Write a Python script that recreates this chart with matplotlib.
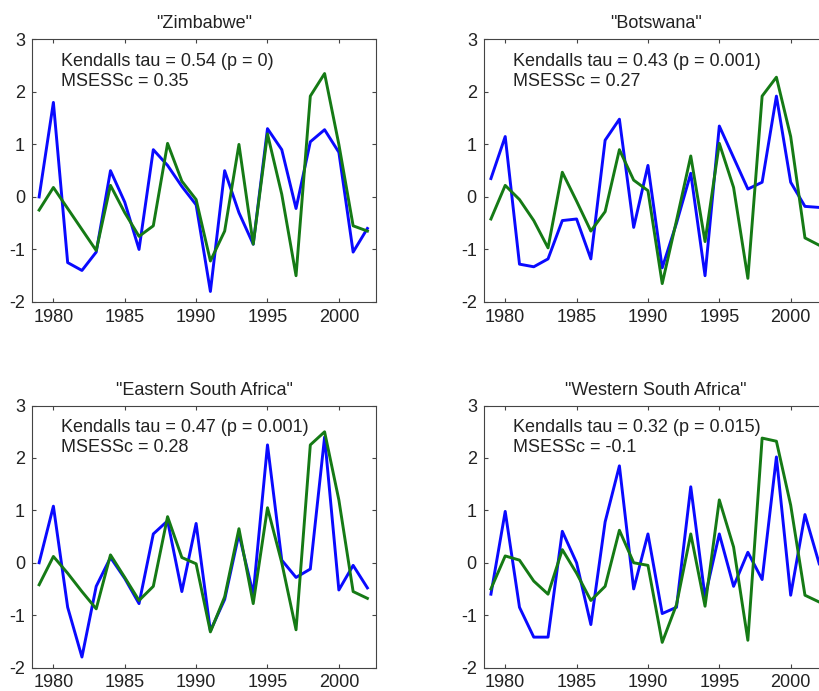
import matplotlib.pyplot as plt

plt.rcParams['font.family'] = ['Liberation Sans', 'DejaVu Sans']
plt.rcParams['axes.unicode_minus'] = False

years = list(range(1979, 2003))

titles = ['"Zimbabwe"', '"Botswana"', '"Eastern South Africa"', '"Western South Africa"']
tau_labels = ['Kendalls tau = 0.54 (p = 0)', 'Kendalls tau = 0.43 (p = 0.001)',
              'Kendalls tau = 0.47 (p = 0.001)', 'Kendalls tau = 0.32 (p = 0.015)']
msess_labels = ['MSESSc = 0.35', 'MSESSc = 0.27', 'MSESSc = 0.28', 'MSESSc = -0.1']

# blue line (observed) per region
zim_blue = [0.0, 1.8, -1.25, -1.4, -1.05, 0.5, -0.1, -1.0, 0.9, 0.6, 0.2, -0.15,
            -1.8, 0.5, -0.3, -0.9, 1.3, 0.9, -0.22, 1.05, 1.28, 0.85, -1.05, -0.6]
bot_blue = [0.35, 1.15, -1.28, -1.33, -1.18, -0.45, -0.42, -1.18, 1.08, 1.48, -0.58, 0.6,
            -1.35, -0.5, 0.45, -1.5, 1.35, 0.75, 0.15, 0.28, 1.92, 0.28, -0.18, -0.2]
esa_blue = [0.0, 1.08, -0.85, -1.8, -0.45, 0.1, -0.3, -0.78, 0.55, 0.8, -0.55, 0.75,
            -1.3, -0.7, 0.55, -0.6, 2.25, 0.05, -0.28, -0.12, 2.4, -0.52, -0.05, -0.48]
wsa_blue = [-0.6, 0.98, -0.85, -1.42, -1.42, 0.6, 0.0, -1.18, 0.78, 1.85, -0.5, 0.55,
            -0.97, -0.85, 1.45, -0.65, 0.55, -0.45, 0.2, -0.32, 2.02, -0.62, 0.92, -0.02]

# green line (forecast) per region
zim_green = [-0.25, 0.18, -0.22, -0.62, -1.02, 0.22, -0.3, -0.75, -0.55, 1.02, 0.3, -0.05,
             -1.22, -0.65, 1.0, -0.9, 1.2, 0.05, -1.5, 1.92, 2.35, 1.0, -0.55, -0.65]
bot_green = [-0.42, 0.22, -0.05, -0.45, -0.97, 0.47, -0.08, -0.65, -0.28, 0.9, 0.32, 0.12,
             -1.65, -0.45, 0.78, -0.85, 1.02, 0.18, -1.55, 1.92, 2.28, 1.15, -0.78, -0.92]
esa_green = [-0.42, 0.12, -0.2, -0.55, -0.88, 0.15, -0.28, -0.72, -0.45, 0.88, 0.1, -0.02,
             -1.32, -0.65, 0.65, -0.78, 1.05, 0.0, -1.28, 2.25, 2.5, 1.2, -0.55, -0.68]
wsa_green = [-0.5, 0.13, 0.05, -0.35, -0.6, 0.25, -0.2, -0.72, -0.45, 0.62, 0.0, -0.05,
             -1.52, -0.8, 0.55, -0.83, 1.2, 0.3, -1.48, 2.38, 2.32, 1.1, -0.62, -0.75]

blues = [zim_blue, bot_blue, esa_blue, wsa_blue]
greens = [zim_green, bot_green, esa_green, wsa_green]

fig = plt.figure(figsize=(8.2, 6.91), dpi=100)

# axes rectangles; the right column runs past the figure edge like the source crop
positions = [[0.039, 0.563, 0.4195, 0.380],
             [0.590, 0.563, 0.4195, 0.380],
             [0.039, 0.034, 0.4195, 0.379],
             [0.590, 0.034, 0.4195, 0.379]]

for i in range(4):
    ax = fig.add_axes(positions[i])
    ax.plot(years, blues[i], color='#0a0aff', linewidth=2.1)
    ax.plot(years, greens[i], color='#157a15', linewidth=2.1)
    ax.set_xlim(1978.5, 2002.6)
    ax.set_ylim(-2, 3)
    ax.set_xticks([1980, 1985, 1990, 1995, 2000])
    ax.set_yticks([-2, -1, 0, 1, 2, 3])
    ax.tick_params(direction='in', length=3, width=0.8, color='#444444',
                   top=True, right=True, labelsize=13, pad=5, labelcolor='#222222')
    for s in ax.spines.values():
        s.set_color('#444444')
        s.set_linewidth(0.8)
    ax.set_title(titles[i], fontsize=13, pad=8, color='#222222')
    ax.text(0.084, 0.915, tau_labels[i], transform=ax.transAxes, fontsize=13,
            va='center', color='#222222')
    ax.text(0.084, 0.839, msess_labels[i], transform=ax.transAxes, fontsize=13,
            va='center', color='#222222')

fig.savefig('out.png', dpi=100)
